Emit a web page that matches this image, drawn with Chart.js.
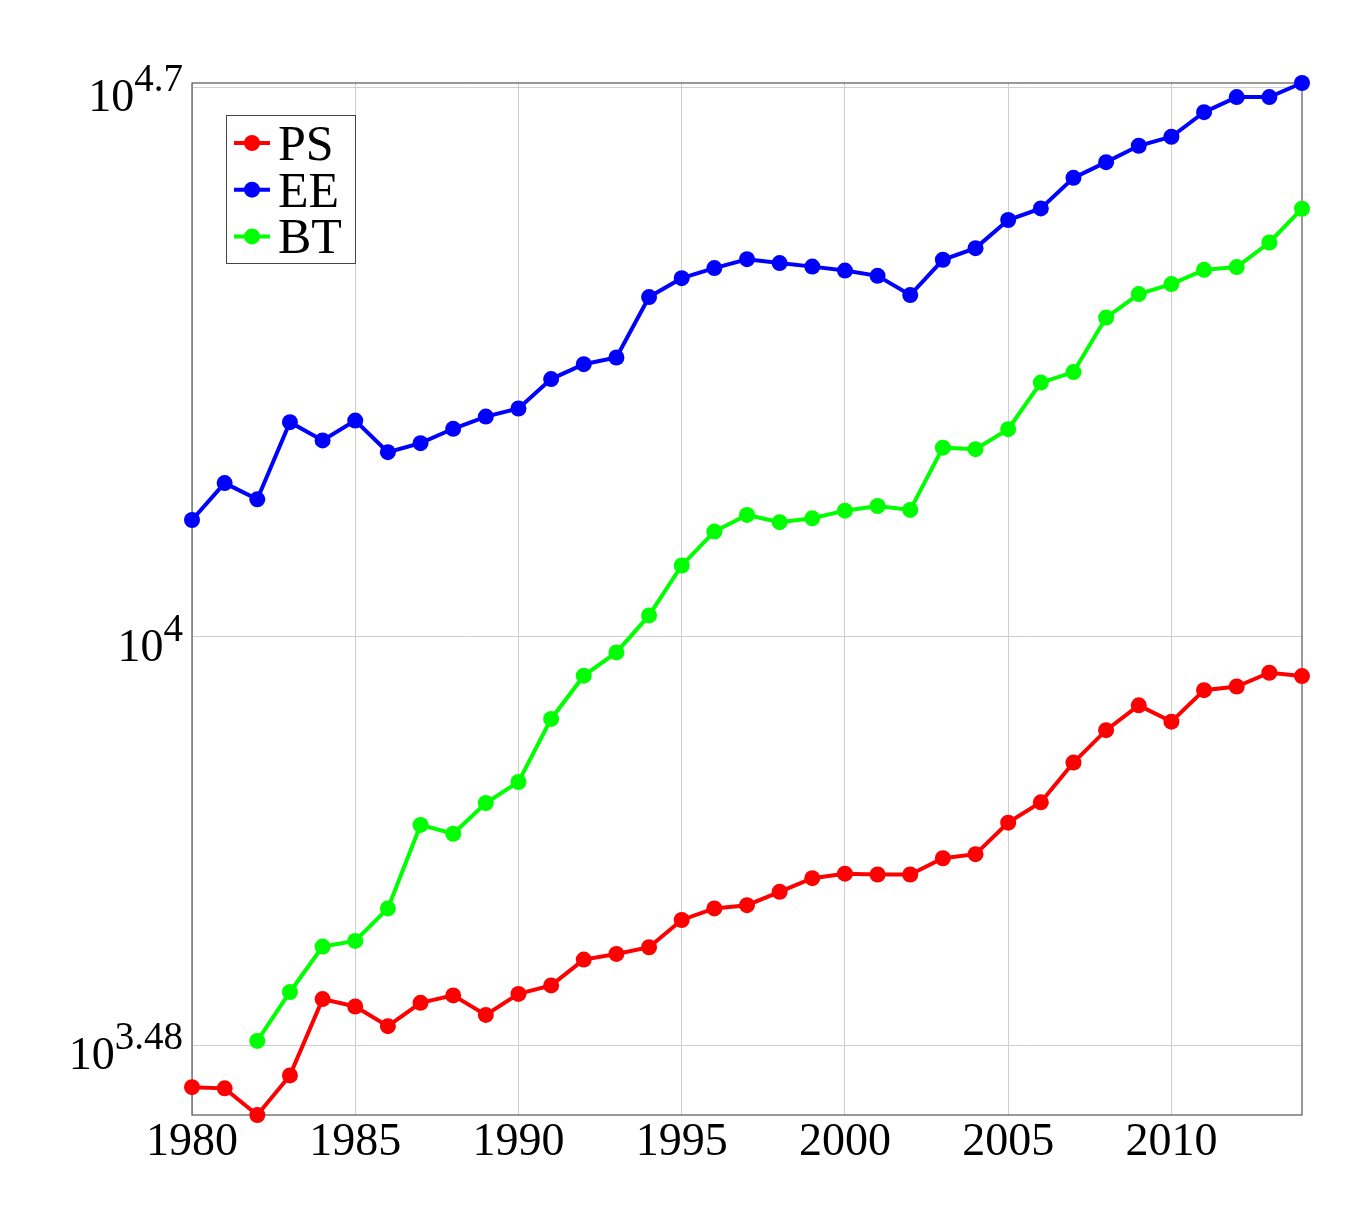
<!DOCTYPE html>
<html>
<head>
<meta charset="utf-8">
<script src="https://cdn.jsdelivr.net/npm/chart.js@4.4.1/dist/chart.umd.min.js"></script>
<style>
  html, body { margin: 0; padding: 0; background: #fff; }
  #wrap { width: 1369px; height: 1223px; }
</style>
</head>
<body>
<div id="wrap"><canvas id="chart"></canvas></div>
<script>
// data
const years = [1980, 1981, 1982, 1983, 1984, 1985, 1986, 1987, 1988, 1989,
               1990, 1991, 1992, 1993, 1994, 1995, 1996, 1997, 1998, 1999,
               2000, 2001, 2002, 2003, 2004, 2005, 2006, 2007, 2008, 2009,
               2010, 2011, 2012, 2013, 2014];
const psValues = [2670, 2661, 2461, 2764, 3457, 3383, 3193, 3420, 3495, 3300,
                  3510, 3599, 3882, 3947, 4025, 4360, 4510, 4553, 4735, 4928,
                  4994, 4982, 4982, 5225, 5288, 5800, 6157, 6917, 7607, 8181,
                  7800, 8554, 8647, 9003, 8915];
const eeValues = [14090, 15700, 14970, 18770, 17790, 18860, 17190, 17650, 18410, 19080,
                  19540, 21300, 22250, 22690, 27090, 28630, 29490, 30270, 29930, 29620,
                  29280, 28830, 27250, 30220, 31270, 33960, 35130, 38430, 40240, 42220,
                  43350, 46590, 48700, 48700, 50750];
const btValues = [null, null, 3058, 3530, 4033, 4100, 4510, 5762, 5614, 6144,
                  6535, 7862, 8925, 9556, 10650, 12330, 13620, 14300, 14000, 14160,
                  14480, 14680, 14510, 17420, 17340, 18390, 21080, 21740, 25510, 27330,
                  28140, 29340, 29580, 31790, 35100];
const seriesNames = ["PS", "EE", "BT"];
const seriesColors = ["#ff0000", "#0000ff", "#00ff00"];
const xTicks = [1980, 1985, 1990, 1995, 2000, 2005, 2010];
const yTickExponents = [3.48, 4, 4.7];

const FONT = '"Liberation Serif", "DejaVu Serif", serif';
const allValues = psValues.concat(eeValues, btValues).filter(v => v !== null);

function toPoints(values) {
    return years.map((yr, i) => ({ x: yr, y: values[i] }));
}

// frame, y labels (10^x) and legend box
const decorPlugin = {
    id: "decor",
    beforeDatasetsDraw(chart) {
        const { ctx, chartArea: a } = chart;
        ctx.save();
        ctx.strokeStyle = "#555555";
        ctx.lineWidth = 1.2;
        ctx.strokeRect(a.left, a.top, a.right - a.left, a.bottom - a.top);
        ctx.restore();
    },
    afterDraw(chart) {
        const { ctx, chartArea: a } = chart;
        const yScale = chart.scales.y;
        ctx.save();
        ctx.fillStyle = "#000";
        ctx.textBaseline = "alphabetic";
        ctx.textAlign = "left";
        const xRight = a.left - 9;
        yTickExponents.forEach(e => {
            const py = yScale.getPixelForValue(Math.pow(10, e));
            const sup = String(e);
            ctx.font = "39px " + FONT;
            const w2 = ctx.measureText(sup).width;
            ctx.font = "46px " + FONT;
            const w1 = ctx.measureText("10").width;
            ctx.fillText("10", xRight - w2 - w1, py + 24);
            ctx.font = "39px " + FONT;
            ctx.fillText(sup, xRight - w2, py + 4);
        });

        // legend
        const lx = a.left + 34, ly = a.top + 32, lw = 129, lh = 148;
        ctx.fillStyle = "#fff";
        ctx.fillRect(lx, ly, lw, lh);
        ctx.strokeStyle = "#444";
        ctx.lineWidth = 1;
        ctx.strokeRect(lx + 0.5, ly + 0.5, lw, lh);
        chart.data.datasets.forEach((ds, i) => {
            const cy = ly + 28 + i * 46.7;
            ctx.strokeStyle = ds.borderColor;
            ctx.lineWidth = 4;
            ctx.beginPath();
            ctx.moveTo(lx + 8, cy);
            ctx.lineTo(lx + 44, cy);
            ctx.stroke();
            ctx.fillStyle = ds.borderColor;
            ctx.beginPath();
            ctx.arc(lx + 26, cy, 8, 0, Math.PI * 2);
            ctx.fill();
            ctx.fillStyle = "#000";
            ctx.font = "50px " + FONT;
            ctx.fillText(ds.label, lx + 52, cy + 17);
        });
        ctx.restore();
    }
};

const datasets = [psValues, eeValues, btValues].map((vals, i) => ({
    label: seriesNames[i],
    data: toPoints(vals),
    borderColor: seriesColors[i],
    backgroundColor: seriesColors[i],
    borderWidth: 4,
    pointRadius: 8,
    pointHoverRadius: 8,
    pointBorderWidth: 0,
    tension: 0,
    clip: false,
}));

new Chart(document.getElementById("chart"), {
    type: "line",
    data: { datasets },
    options: {
        responsive: true,
        maintainAspectRatio: false,
        animation: false,
        layout: { padding: { top: 83, right: 67, left: 0, bottom: 0 } },
        plugins: {
            legend: { display: false },
            tooltip: { enabled: false },
        },
        scales: {
            x: {
                type: "linear",
                min: 1980,
                max: 2014,
                afterBuildTicks: scale => { scale.ticks = xTicks.map(v => ({ value: v })); },
                afterFit: scale => { scale.height = 108; },
                grid: { color: "#cfcfcf", lineWidth: 1, drawTicks: false },
                border: { display: false },
                ticks: {
                    font: { family: FONT, size: 46 },
                    color: "#000",
                    padding: 0,
                    maxRotation: 0,
                    callback: v => String(v),
                },
            },
            y: {
                type: "logarithmic",
                min: Math.min(...allValues),
                max: Math.max(...allValues),
                afterBuildTicks: scale => {
                    scale.ticks = yTickExponents.map(e => ({ value: Math.pow(10, e) }));
                },
                afterFit: scale => { scale.width = 192; },
                grid: { color: "#cfcfcf", lineWidth: 1, drawTicks: false },
                border: { display: false },
                ticks: { display: false },
            },
        },
    },
    plugins: [decorPlugin],
});
</script>
</body>
</html>
